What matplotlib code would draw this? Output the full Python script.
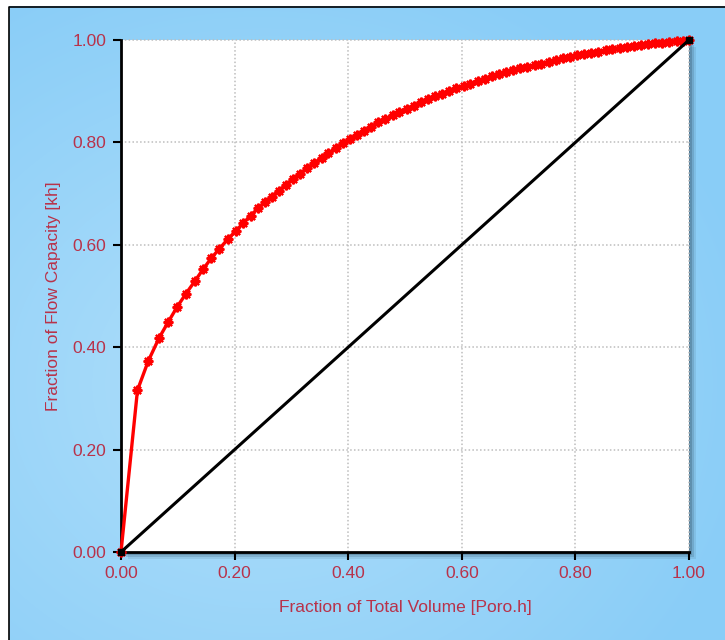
import numpy as np
import matplotlib
matplotlib.use("Agg")
import matplotlib.pyplot as plt
from matplotlib.patches import Rectangle

plt.rcParams['font.family'] = ['Liberation Sans', 'DejaVu Sans']

# Cumulative fraction of total volume (poro*h) and of flow capacity (kh)
vol_frac = [
    0.000, 0.029, 0.048, 0.067, 0.083, 0.099, 0.114, 0.130, 0.145, 0.159,
    0.173, 0.188, 0.202, 0.215, 0.228, 0.241, 0.253, 0.265, 0.278, 0.290,
    0.303, 0.315, 0.328, 0.340, 0.353, 0.365, 0.378, 0.390, 0.403, 0.415,
    0.428, 0.440, 0.453, 0.465, 0.478, 0.490, 0.503, 0.515, 0.528, 0.540,
    0.553, 0.565, 0.578, 0.590, 0.603, 0.615, 0.628, 0.640, 0.653, 0.665,
    0.678, 0.690, 0.703, 0.715, 0.728, 0.740, 0.753, 0.765, 0.778, 0.790,
    0.803, 0.815, 0.828, 0.840, 0.853, 0.865, 0.878, 0.890, 0.903, 0.915,
    0.928, 0.940, 0.953, 0.965, 0.978, 0.990, 1.000,
]
flow_frac = [
    0.000, 0.316, 0.373, 0.418, 0.449, 0.479, 0.504, 0.529, 0.553, 0.574,
    0.592, 0.611, 0.627, 0.642, 0.657, 0.671, 0.683, 0.694, 0.706, 0.717,
    0.729, 0.739, 0.750, 0.760, 0.770, 0.779, 0.789, 0.798, 0.807, 0.815,
    0.823, 0.831, 0.839, 0.846, 0.853, 0.860, 0.866, 0.872, 0.878, 0.884,
    0.890, 0.895, 0.901, 0.906, 0.911, 0.915, 0.920, 0.924, 0.929, 0.933,
    0.937, 0.941, 0.945, 0.948, 0.951, 0.954, 0.958, 0.961, 0.964, 0.967,
    0.970, 0.972, 0.975, 0.977, 0.980, 0.982, 0.984, 0.986, 0.988, 0.990,
    0.992, 0.994, 0.995, 0.997, 0.998, 0.999, 1.000,
]
# Homogeneous reference line
diag_x = [0.0, 1.0]
diag_y = [0.0, 1.0]

ticks = [0.0, 0.2, 0.4, 0.6, 0.8, 1.0]
tick_labels = ["0.00", "0.20", "0.40", "0.60", "0.80", "1.00"]

W, H = 725, 640
fig = plt.figure(figsize=(W / 100, H / 100), dpi=100)
fig.patch.set_facecolor('white')

# Background panel with a soft blue gradient
bg = fig.add_axes([0, 0, 1, 1], zorder=-10)
bg.set_xlim(0, W)
bg.set_ylim(H, 0)
bg.axis('off')
yy, xx = np.mgrid[0:H, 0:W]
cx, cy = 0.36 * W, 0.6 * H
r = np.sqrt(((xx - cx) / (0.7 * W)) ** 2 + ((yy - cy) / (0.7 * H)) ** 2)
r = np.clip(r, 0, 1)
c_in = np.array([176, 223, 251]) / 255.0
c_out = np.array([137, 205, 247]) / 255.0
img = c_in[None, None, :] * (1 - r[..., None]) + c_out[None, None, :] * r[..., None]
bg.imshow(img, extent=(0, W, H, 0), aspect='auto', interpolation='bilinear')
bg.add_patch(Rectangle((0, 0), 9, H, color='white', lw=0))
bg.add_patch(Rectangle((0, 0), W, 6, color='white', lw=0))
bg.plot([9.5, 9.5, W], [H, 6.5, 6.5], color='black', lw=1.2)

# Drop shadow behind the plot area
L, R, T, B = 121, 689, 40, 552
for off, a in [(7, 0.12), (5, 0.2), (3, 0.3), (1.5, 0.35)]:
    bg.add_patch(Rectangle((L + off, T + off), R - L, B - T,
                           facecolor='#34546a', alpha=a, lw=0))
bg.add_patch(Rectangle((L, T), R - L, B - T, facecolor='white', lw=0))

ax = fig.add_axes([L / W, 1 - B / H, (R - L) / W, (B - T) / H])
ax.set_facecolor('white')
ax.set_xlim(0, 1)
ax.set_ylim(0, 1)

label_color = '#b8324a'
fs = 12.5
ax.set_xticks(ticks)
ax.set_xticklabels(tick_labels)
ax.set_yticks(ticks)
ax.set_yticklabels(tick_labels)
ax.tick_params(axis='both', direction='out', length=6, width=1.5,
               color='black', labelcolor=label_color, labelsize=fs)
ax.tick_params(axis='y', pad=4.5)
ax.tick_params(axis='x', pad=4)

for s in ['top', 'right']:
    ax.spines[s].set_visible(False)
for s in ['left', 'bottom']:
    ax.spines[s].set_linewidth(2)
    ax.spines[s].set_color('black')

# Dotted grid, including the closing lines at 1.0
for t in ticks[1:]:
    ax.axvline(t, color='#bdbdbd', lw=1.1, ls=(0, (1, 1.5)), zorder=0.5, clip_on=False)
    ax.axhline(t, color='#bdbdbd', lw=1.1, ls=(0, (1, 1.5)), zorder=0.5, clip_on=False)

ax.plot(vol_frac, flow_frac, color='#ff0000', lw=2.4, marker=(8, 2, 0),
        ms=7, mew=1.6, zorder=3, clip_on=False)
ax.plot(diag_x, diag_y, color='black', lw=2.2, marker='s', ms=4,
        zorder=4, clip_on=False)

ax.set_xlabel('Fraction of Total Volume [Poro.h]', color=label_color,
              fontsize=fs, labelpad=14)
ax.set_ylabel('Fraction of Flow Capacity [kh]', color=label_color,
              fontsize=fs, labelpad=8)

fig.savefig('out.png', dpi=100)
